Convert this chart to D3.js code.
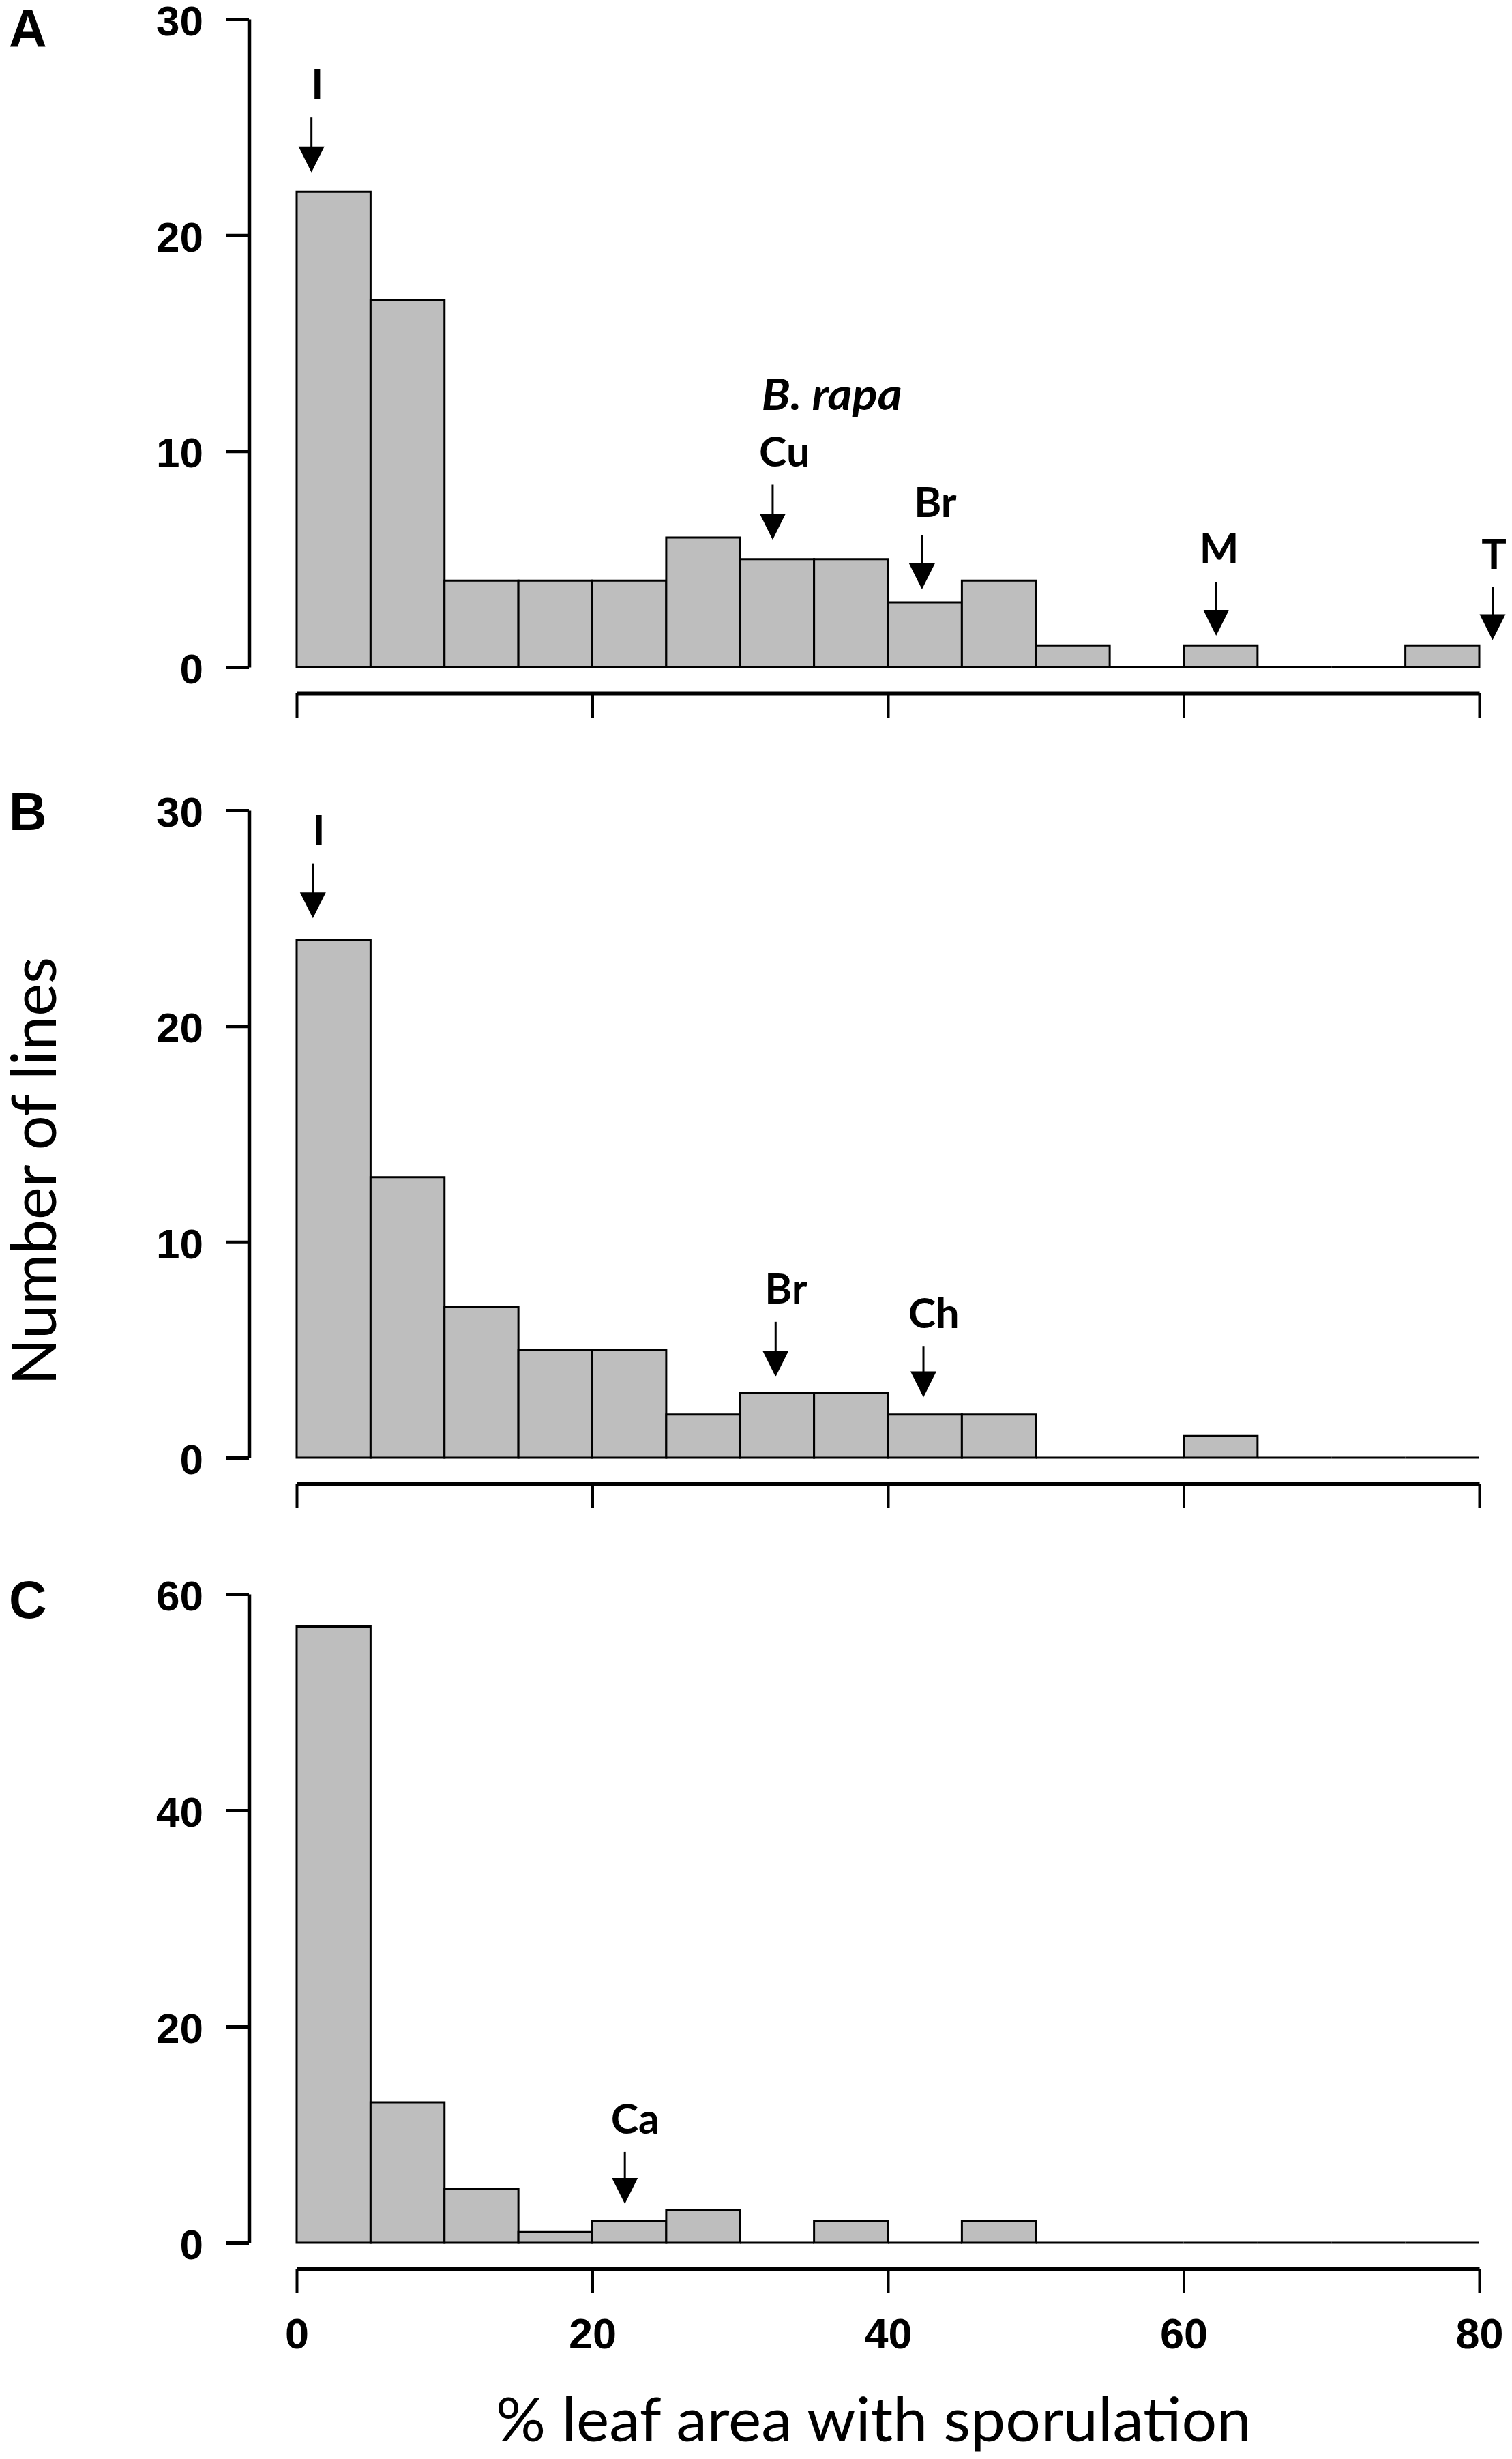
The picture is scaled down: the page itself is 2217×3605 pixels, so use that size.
<!DOCTYPE html>
<html>
<head>
<meta charset="utf-8">
<script src="https://cdn.jsdelivr.net/npm/d3@7"></script>
<style>
  body { margin: 0; background: #fff; }
  svg { display: block; }
</style>
</head>
<body>
<div id="chart"></div>
<script>
// histogram bins (% leaf area with sporulation), 5 % wide
var binStarts = [0, 5, 10, 15, 20, 25, 30, 35, 40, 45, 50, 55, 60, 65, 70, 75];
var binWidth = 5;

var countsA = [22, 17, 4, 4, 4, 6, 5, 5, 3, 4, 1, 0, 1, 0, 0, 1];
var countsB = [24, 13, 7, 5, 5, 2, 3, 3, 2, 2, 0, 0, 1, 0, 0, 0];
var countsC = [57, 13, 5, 1, 2, 3, 0, 2, 0, 2, 0, 0, 0, 0, 0, 0];

var xTicks = [0, 20, 40, 60, 80];
var yTicksAB = [0, 10, 20, 30];
var yTicksC = [0, 20, 40, 60];

// arrows: x = where it points, y = tip height, lx/ly = label centre / baseline (data units)
var arrowsA = [
    { label: "I", x: 1.0, y: 22.9, lx: 1.4, ly: 26.3 },
    { label: "Cu", x: 32.2, y: 5.9, lx: 33.0, ly: 9.3 },
    { label: "Br", x: 42.3, y: 3.6, lx: 43.2, ly: 6.95 },
    { label: "M", x: 62.2, y: 1.45, lx: 62.4, ly: 4.8 },
    { label: "T", x: 80.9, y: 1.25, lx: 81.0, ly: 4.55 }
];
var arrowsB = [
    { label: "I", x: 1.1, y: 25.0, lx: 1.5, ly: 28.4 },
    { label: "Br", x: 32.4, y: 3.75, lx: 33.1, ly: 7.15 },
    { label: "Ch", x: 42.4, y: 2.8, lx: 43.1, ly: 6.0 }
];
var arrowsC = [
    { label: "Ca", x: 22.2, y: 3.6, lx: 22.9, ly: 10.1 }
];
var speciesNote = { label: "B. rapa", lx: 36.2, ly: 11.9 };

var svgWidth = 2217, svgHeight = 3605;
var svg = d3.select("#chart").append("svg")
    .attr("width", svgWidth)
    .attr("height", svgHeight)
    .attr("viewBox", "0 0 " + svgWidth + " " + svgHeight);
svg.append("rect").attr("width", svgWidth).attr("height", svgHeight).attr("fill", "#fff");

var x = d3.scaleLinear().domain([0, 80]).range([435, 2169]);

var panels = [
    { letter: "A", counts: countsA, arrows: arrowsA, yMax: 30, yTicks: yTicksAB, base: 978, top: 28, letterY: 69, showX: false },
    { letter: "B", counts: countsB, arrows: arrowsB, yMax: 30, yTicks: yTicksAB, base: 2137, top: 1188, letterY: 1217, showX: false },
    { letter: "C", counts: countsC, arrows: arrowsC, yMax: 60, yTicks: yTicksC, base: 3288, top: 2337, letterY: 2372, showX: true }
];

var tickFont = "'Liberation Sans', Arial, sans-serif";
var labelFont = "Lato, 'Open Sans', sans-serif";
var headLen = 38, headHalf = 19, labelGap = 27;

panels.forEach(function(p) {
    var y = d3.scaleLinear().domain([0, p.yMax]).range([p.base, p.top]);
    var g = svg.append("g");

    // bars as paths so empty bins still show as a line on the baseline
    g.selectAll("path.bar")
        .data(p.counts.map(function(c, i) { return { x0: binStarts[i], x1: binStarts[i] + binWidth, n: c }; }))
        .enter().append("path")
        .attr("class", "bar")
        .attr("d", function(d) {
            var pa = d3.path();
            pa.rect(x(d.x0), y(d.n), x(d.x1) - x(d.x0), y(0) - y(d.n));
            return pa.toString();
        })
        .attr("fill", "#bebebe")
        .attr("stroke", "#000")
        .attr("stroke-width", 3);

    // y axis
    var yAxis = g.append("g")
        .attr("transform", "translate(365,0)")
        .call(d3.axisLeft(y).tickValues(p.yTicks).tickSize(34).tickSizeOuter(0).tickPadding(33));
    yAxis.select(".domain").attr("stroke-width", 5.5);
    yAxis.selectAll(".tick line").attr("stroke-width", 5);
    yAxis.selectAll(".tick text")
        .attr("dy", "0.38em")
        .attr("font-family", tickFont)
        .attr("font-weight", "bold")
        .attr("font-size", 62)
        .attr("fill", "#000");

    // x axis, 38px under the baseline
    var xAxis = g.append("g")
        .attr("transform", "translate(0," + (p.base + 38) + ")")
        .call(d3.axisBottom(x).tickValues(xTicks).tickSize(36).tickSizeOuter(0).tickPadding(36)
            .tickFormat(p.showX ? d3.format("d") : function() { return ""; }));
    xAxis.select(".domain").attr("stroke-width", 6);
    xAxis.selectAll(".tick line").attr("stroke-width", 4);
    xAxis.selectAll(".tick text")
        .attr("font-family", tickFont)
        .attr("font-weight", "bold")
        .attr("font-size", 63)
        .attr("fill", "#000");

    // panel letter
    svg.append("text")
        .attr("x", 13)
        .attr("y", p.letterY)
        .attr("font-family", tickFont)
        .attr("font-weight", "bold")
        .attr("font-size", 77)
        .text(p.letter);

    // arrows + labels
    var ag = g.selectAll("g.arrow").data(p.arrows).enter().append("g").attr("class", "arrow");
    ag.append("line")
        .attr("x1", function(d) { return x(d.x); })
        .attr("x2", function(d) { return x(d.x); })
        .attr("y1", function(d) { return y(d.ly) + labelGap; })
        .attr("y2", function(d) { return y(d.y) - headLen + 2; })
        .attr("stroke", "#000")
        .attr("stroke-width", 3);
    ag.append("path")
        .attr("d", function(d) {
            var tx = x(d.x), ty = y(d.y);
            return "M" + (tx - headHalf) + "," + (ty - headLen) + "L" + (tx + headHalf) + "," + (ty - headLen) + "L" + tx + "," + ty + "Z";
        })
        .attr("fill", "#000");
    ag.append("text")
        .attr("x", function(d) { return x(d.lx); })
        .attr("y", function(d) { return y(d.ly); })
        .attr("text-anchor", "middle")
        .attr("font-family", labelFont)
        .attr("font-weight", "bold")
        .attr("font-size", 61)
        .text(function(d) { return d.label; });

    if (p.letter === "A") {
        g.append("text")
            .attr("x", x(speciesNote.lx))
            .attr("y", y(speciesNote.ly))
            .attr("text-anchor", "middle")
            .attr("font-family", labelFont)
            .attr("font-weight", "bold")
            .attr("font-style", "italic")
            .attr("font-size", 64)
            .attr("textLength", 206)
            .attr("lengthAdjust", "spacingAndGlyphs")
            .text(speciesNote.label);
    }
});

// axis titles
svg.append("text")
    .attr("x", 1281)
    .attr("y", 3579)
    .attr("text-anchor", "middle")
    .attr("font-family", labelFont)
    .attr("font-size", 90)
    .attr("textLength", 1108)
    .attr("lengthAdjust", "spacingAndGlyphs")
    .text("% leaf area with sporulation");

svg.append("text")
    .attr("transform", "translate(82,1717) rotate(-90)")
    .attr("text-anchor", "middle")
    .attr("font-family", labelFont)
    .attr("font-size", 92)
    .attr("textLength", 628)
    .attr("lengthAdjust", "spacingAndGlyphs")
    .text("Number of lines");
</script>
</body>
</html>
